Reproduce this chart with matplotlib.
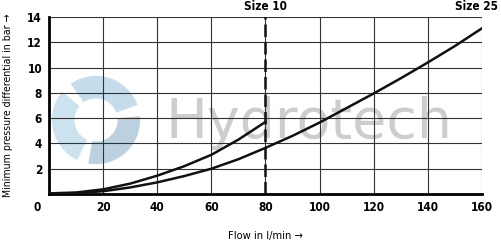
import numpy as np
import matplotlib.pyplot as plt
from matplotlib.patches import Wedge

# flow in l/min and pressure differential in bar
flow_10 = [0, 10, 20, 30, 40, 50, 60, 70, 80]
dp_10 = [0.05, 0.12, 0.37, 0.82, 1.45, 2.2, 3.1, 4.3, 5.7]
flow_25 = [0, 10, 20, 30, 40, 50, 60, 70, 80, 90, 100, 110, 120, 130, 140, 150, 160]
dp_25 = [0.02, 0.07, 0.22, 0.52, 0.92, 1.42, 2.0, 2.75, 3.65, 4.6, 5.65, 6.8, 7.95,
         9.15, 10.4, 11.7, 13.1]
xticks = [20, 40, 60, 80, 100, 120, 140, 160]
yticks = [2, 4, 6, 8, 10, 12, 14]

plt.rcParams['font.family'] = 'DejaVu Sans'
plt.rcParams['font.stretch'] = 'condensed'

fig = plt.figure(figsize=(5.01, 2.43), dpi=100)
ax = fig.add_axes([0.0978, 0.2016, 0.864, 0.7284])

# watermark logo, own axes so the circle stays round
lax = fig.add_axes([51 / 501, 1 - 165 / 243, 90 / 501, 90 / 243], zorder=0.5)
lax.set_xlim(-1, 1)
lax.set_ylim(-1, 1)
lax.set_aspect('equal')
lax.axis('off')
for th, c in zip([20, 140, 260], ['#9ec6de', '#a9cfe5', '#8fb3cc']):
    lax.add_patch(Wedge((0, 0), 0.98, th, th + 105, width=0.5, color=c,
                        alpha=0.6, lw=0))
lax.patch.set_alpha(0)

ax.set_zorder(1)
ax.patch.set_alpha(0)
ax.text(96, 5.6, 'Hydrotech', fontsize=40, color='#b8b8b8', alpha=0.7,
        ha='center', va='center', family='DejaVu Sans', stretch='normal', zorder=0.5)

ax.set_xlim(0, 160)
ax.set_ylim(0, 14)
ax.set_xticks(xticks)
ax.set_yticks(yticks)
ax.grid(True, color='#333333', lw=0.8)
ax.set_axisbelow(True)
for s in ['top', 'right']:
    ax.spines[s].set_visible(False)
for s in ['left', 'bottom']:
    ax.spines[s].set_linewidth(2)
ax.tick_params(length=0, pad=5, labelsize=8.5)
for lab in ax.get_xticklabels() + ax.get_yticklabels():
    lab.set_fontweight('bold')
ax.text(-3, -1.05, '0', fontsize=8.5, fontweight='bold', ha='right', va='center',
        clip_on=False)

ax.plot(flow_10, dp_10, color='#111111', lw=1.8, zorder=3)
ax.plot(flow_25, dp_25, color='#111111', lw=1.8, zorder=3)
ax.axvline(80, color='#111111', lw=1.8, ls=(0, (5, 2)), zorder=3)

ax.text(80, 14.35, 'Size 10', fontsize=8.5, fontweight='bold', ha='center', va='bottom')
fig.text(498 / 501, 1 - 13 / 243, 'Size 25', fontsize=8.5, fontweight='bold',
         ha='right', va='bottom')

ax.set_xlabel('Flow in l/min →', fontsize=8, labelpad=12)
ax.set_ylabel('Minimum pressure differential in bar →', fontsize=7.6, labelpad=10)

fig.savefig('out.png', dpi=100)
